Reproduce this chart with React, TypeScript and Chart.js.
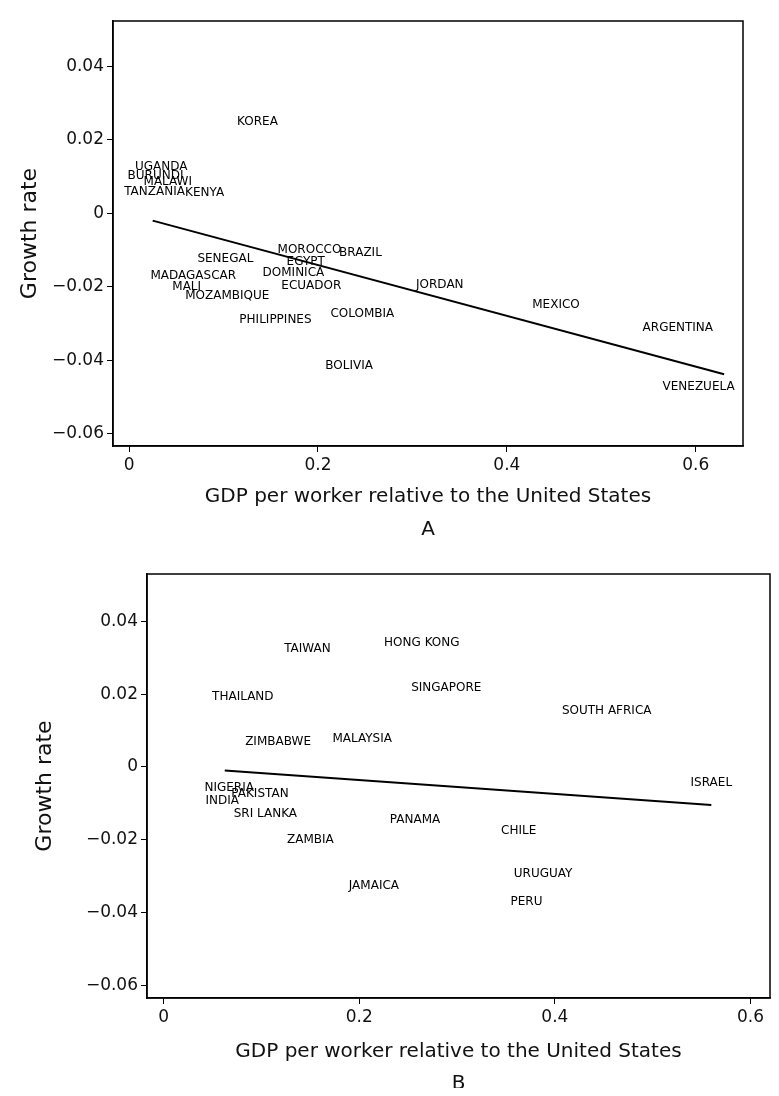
import React, { useEffect, useRef } from 'react';
import { Chart, registerables } from 'chart.js';

Chart.register(...registerables);

// ---------- Panel A data ----------
const countriesA = [
  'KOREA', 'UGANDA', 'BURUNDI', 'MALAWI', 'TANZANIA', 'KENYA', 'MOROCCO', 'BRAZIL',
  'SENEGAL', 'EGYPT', 'DOMINICA', 'MADAGASCAR', 'JORDAN', 'MALI', 'ECUADOR', 'MEXICO',
  'MOZAMBIQUE', 'COLOMBIA', 'PHILIPPINES', 'BOLIVIA', 'ARGENTINA', 'VENEZUELA',
];
const gdpA = [
  0.136, 0.034, 0.028, 0.041, 0.027, 0.080, 0.191, 0.245,
  0.102, 0.187, 0.174, 0.068, 0.329, 0.061, 0.193, 0.452,
  0.104, 0.247, 0.155, 0.233, 0.581, 0.603,
];
const growthA = [
  0.0248, 0.0125, 0.0101, 0.0086, 0.0059, 0.0055, -0.0100, -0.0109,
  -0.0123, -0.0132, -0.0162, -0.0169, -0.0196, -0.0199, -0.0198, -0.0249,
  -0.0224, -0.0274, -0.0289, -0.0416, -0.0311, -0.0471,
];
const fitAx = [0.025, 0.630];
const fitAy = [-0.0020, -0.0438];

// ---------- Panel B data ----------
const countriesB = [
  'HONG KONG', 'TAIWAN', 'SINGAPORE', 'THAILAND', 'SOUTH AFRICA', 'ZIMBABWE', 'MALAYSIA',
  'NIGERIA', 'PAKISTAN', 'INDIA', 'SRI LANKA', 'PANAMA', 'CHILE', 'ZAMBIA', 'JAMAICA',
  'ISRAEL', 'URUGUAY', 'PERU',
];
const gdpB = [
  0.264, 0.147, 0.289, 0.081, 0.453, 0.117, 0.203,
  0.067, 0.0985, 0.060, 0.104, 0.257, 0.363, 0.150, 0.215,
  0.560, 0.388, 0.371,
];
const growthB = [
  0.0340, 0.0323, 0.0218, 0.0193, 0.0154, 0.0068, 0.0077,
  -0.0058, -0.0075, -0.0094, -0.0128, -0.0146, -0.0175, -0.0200, -0.0326,
  -0.0045, -0.0293, -0.0371,
];
const fitBx = [0.0625, 0.560];
const fitBy = [-0.0010, -0.0105];

// ---------- Axis ticks ----------
const yTickValues = [-0.06, -0.04, -0.02, 0, 0.02, 0.04];
const yTickLabels = ['\u22120.06', '\u22120.04', '\u22120.02', '0', '0.02', '0.04'];
const xTickValues = [0, 0.2, 0.4, 0.6];
const xTickLabels = ['0', '0.2', '0.4', '0.6'];

const xTitle = 'GDP per worker relative to the United States';
const yTitle = 'Growth rate';

const FONT = "'DejaVu Sans', 'Liberation Sans', sans-serif";
const INK = '#111';

const countryLabelPlugin = {
  id: 'countryLabels',
  afterDatasetsDraw(chart: any, _args: any, opts: any) {
    const names: string[] = opts.names || [];
    const ds = chart.data.datasets[0];
    const xs = chart.scales.x;
    const ys = chart.scales.y;
    const ctx = chart.ctx;
    ctx.save();
    ctx.font = `12px ${FONT}`;
    ctx.fillStyle = '#000';
    ctx.textAlign = 'center';
    ctx.textBaseline = 'middle';
    ds.data.forEach((p: any, i: number) => {
      ctx.fillText(names[i], xs.getPixelForValue(p.x), ys.getPixelForValue(p.y));
    });
    ctx.restore();
  },
};

const framePlugin = {
  id: 'frameBox',
  afterDraw(chart: any) {
    const { left, right, top, bottom } = chart.chartArea;
    const ctx = chart.ctx;
    ctx.save();
    ctx.strokeStyle = '#000';
    ctx.lineWidth = 1.5;
    ctx.strokeRect(left, top, right - left, bottom - top);
    ctx.restore();
  },
};

type PanelProps = {
  names: string[];
  xs: number[];
  ys: number[];
  fitX: number[];
  fitY: number[];
  xMin: number;
  xMax: number;
  yMin: number;
  yMax: number;
  padTop: number;
  padRight: number;
  yAxisWidth: number;
  xAxisHeight: number;
  yTitlePad: number;
  xTitlePadBottom: number;
  letter: string;
  letterPadBottom: number;
  width: number;
  height: number;
  top: number;
};

function Panel(p: PanelProps) {
  const ref = useRef<HTMLCanvasElement | null>(null);
  useEffect(() => {
    if (!ref.current) return;
    const chart = new Chart(ref.current, {
      type: 'scatter',
      data: {
        datasets: [
          {
            data: p.xs.map((x, i) => ({ x, y: p.ys[i] })),
            pointRadius: 0,
            showLine: false,
          },
          {
            data: p.fitX.map((x, i) => ({ x, y: p.fitY[i] })),
            showLine: true,
            borderColor: '#000',
            borderWidth: 2,
            pointRadius: 0,
            fill: false,
          },
        ],
      },
      options: {
        responsive: false,
        animation: false,
        layout: { padding: { top: p.padTop, right: p.padRight, left: 0, bottom: 0 } },
        scales: {
          x: {
            type: 'linear',
            min: p.xMin,
            max: p.xMax,
            afterBuildTicks: (s: any) => {
              s.ticks = xTickValues.map((v) => ({ value: v }));
            },
            afterFit: (s: any) => {
              s.height = p.xAxisHeight;
            },
            ticks: {
              callback: (v: any) => {
                const i = xTickValues.findIndex((t) => Math.abs(t - v) < 1e-9);
                return i >= 0 ? xTickLabels[i] : '';
              },
              font: { family: FONT, size: 17 },
              color: INK,
              padding: 3,
              maxRotation: 0,
              autoSkip: false,
            },
            grid: { drawOnChartArea: false, drawTicks: true, tickLength: 6, color: '#000', lineWidth: 1 },
            border: { display: true, color: '#000', width: 1.5 },
            title: {
              display: true,
              text: xTitle,
              font: { family: FONT, size: 20 },
              color: INK,
              padding: { top: 0, bottom: p.xTitlePadBottom },
            },
          },
          y: {
            type: 'linear',
            min: p.yMin,
            max: p.yMax,
            afterBuildTicks: (s: any) => {
              s.ticks = yTickValues.map((v) => ({ value: v }));
            },
            afterFit: (s: any) => {
              s.width = p.yAxisWidth;
            },
            ticks: {
              callback: (v: any) => {
                const i = yTickValues.findIndex((t) => Math.abs(t - v) < 1e-9);
                return i >= 0 ? yTickLabels[i] : '';
              },
              font: { family: FONT, size: 17 },
              color: INK,
              padding: 3,
              autoSkip: false,
            },
            grid: { drawOnChartArea: false, drawTicks: true, tickLength: 6, color: '#000', lineWidth: 1 },
            border: { display: true, color: '#000', width: 1.5 },
            title: {
              display: true,
              text: yTitle,
              font: { family: FONT, size: 22 },
              color: INK,
              padding: { top: p.yTitlePad, bottom: 0 },
            },
          },
        },
        plugins: {
          legend: { display: false },
          tooltip: { enabled: false },
          title: {
            display: true,
            text: p.letter,
            position: 'bottom',
            fullSize: false,
            font: { family: FONT, size: 20, weight: 'normal', lineHeight: 1 },
            color: INK,
            padding: { top: 0, bottom: p.letterPadBottom },
          },
          countryLabels: { names: p.names },
        } as any,
      },
      plugins: [countryLabelPlugin, framePlugin],
    } as any);
    return () => chart.destroy();
  }, []);
  return (
    <canvas
      ref={ref}
      width={p.width}
      height={p.height}
      style={{ position: 'absolute', left: 0, top: p.top, width: p.width, height: p.height }}
    />
  );
}

export default function App() {
  return (
    <div style={{ position: 'relative', width: 779, height: 1096, margin: -8, background: '#fff' }}>
      <Panel
        names={countriesA}
        xs={gdpA}
        ys={growthA}
        fitX={fitAx}
        fitY={fitAy}
        xMin={-0.017}
        xMax={0.65}
        yMin={-0.0633}
        yMax={0.0523}
        padTop={21}
        padRight={36}
        yAxisWidth={113}
        xAxisHeight={74}
        yTitlePad={17}
        xTitlePadBottom={11}
        letter="A"
        letterPadBottom={8}
        width={779}
        height={548}
        top={0}
      />
      <Panel
        names={countriesB}
        xs={gdpB}
        ys={growthB}
        fitX={fitBx}
        fitY={fitBy}
        xMin={-0.017}
        xMax={0.62}
        yMin={-0.0635}
        yMax={0.053}
        padTop={26}
        padRight={9}
        yAxisWidth={147}
        xAxisHeight={76}
        yTitlePad={32}
        xTitlePadBottom={10}
        letter="B"
        letterPadBottom={2}
        width={779}
        height={548}
        top={548}
      />
    </div>
  );
}
